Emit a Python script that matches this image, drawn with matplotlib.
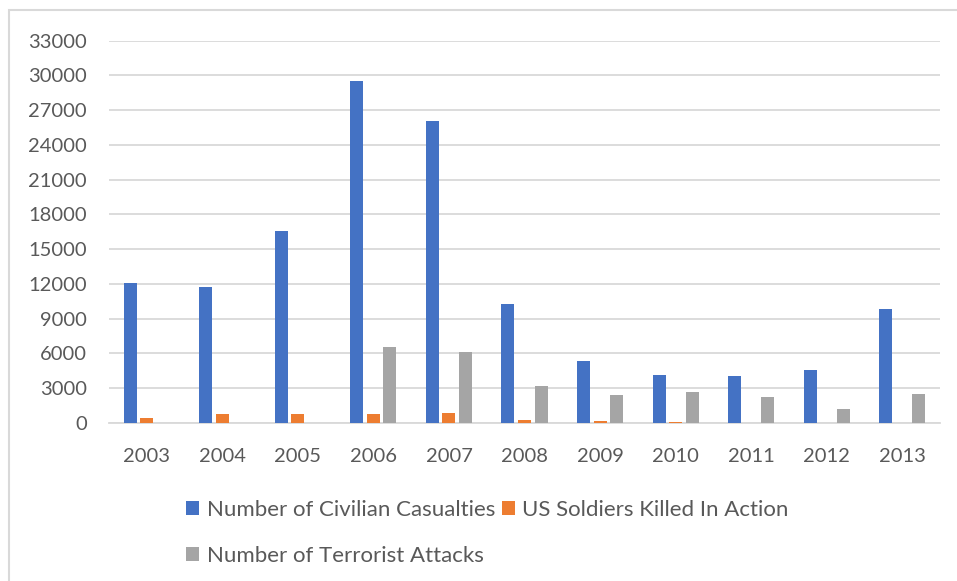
import numpy as np
import matplotlib.pyplot as plt
from matplotlib.patches import Rectangle

years = ["2003", "2004", "2005", "2006", "2007", "2008", "2009", "2010", "2011", "2012", "2013"]
civilian = [12110, 11720, 16580, 29480, 26080, 10280, 5340, 4130, 4100, 4590, 9850]
soldiers = [410, 820, 800, 780, 850, 290, 150, 60, 0, 0, 0]
attacks = [0, 0, 0, 6570, 6170, 3220, 2450, 2700, 2250, 1250, 2500]
yticks = list(range(0, 33001, 3000))

plt.rcParams['font.family'] = ['Lato', 'DejaVu Sans']
txt = '#595959'
grid = '#D9D9D9'

fig = plt.figure(figsize=(9.57, 5.81), dpi=100)
ax = fig.add_axes([109 / 957, 1 - 423 / 581, (940 - 109) / 957, (423 - 40.7) / 581])

x = np.arange(len(years))
w = 0.172
off = 0.219
b1 = ax.bar(x - off, civilian, w, color='#4472C4', label='Number of Civilian Casualties', zorder=3)
b2 = ax.bar(x, soldiers, w, color='#ED7D31', label='US Soldiers Killed In Action', zorder=3)
b3 = ax.bar(x + off, attacks, w, color='#A5A5A5', label='Number of Terrorist Attacks', zorder=3)

ax.set_xlim(-0.5, len(years) - 0.5)
ax.set_ylim(0, 33000)
ax.set_yticks(yticks)
ax.set_yticklabels([str(v) for v in yticks])
ax.set_xticks(x)
ax.set_xticklabels(years)
ax.yaxis.grid(True, color=grid, linewidth=1.3, zorder=0)
for s in ['top', 'right', 'left']:
    ax.spines[s].set_visible(False)
ax.spines['bottom'].set_color(grid)
ax.spines['bottom'].set_linewidth(1.3)
ax.tick_params(axis='both', length=0, labelsize=14.5, colors=txt)
ax.tick_params(axis='y', pad=16)
ax.tick_params(axis='x', pad=18)

fig.legend([b1, b3, b2], [b1.get_label(), b3.get_label(), b2.get_label()],
           ncol=2, loc='upper left', bbox_to_anchor=(186 / 957, 1 - 500 / 581),
           frameon=False, fontsize=16, labelcolor=txt, borderpad=0, borderaxespad=0,
           handlelength=0.6, handleheight=0.6, handletextpad=0.33,
           columnspacing=0.3, labelspacing=1.15)

fig.patches.append(Rectangle((9 / 957, -0.1), 1.1, 1 - 10 / 581 + 0.1, transform=fig.transFigure,
                             fill=False, edgecolor=grid, linewidth=1.5))

fig.savefig('out.png', dpi=100)
